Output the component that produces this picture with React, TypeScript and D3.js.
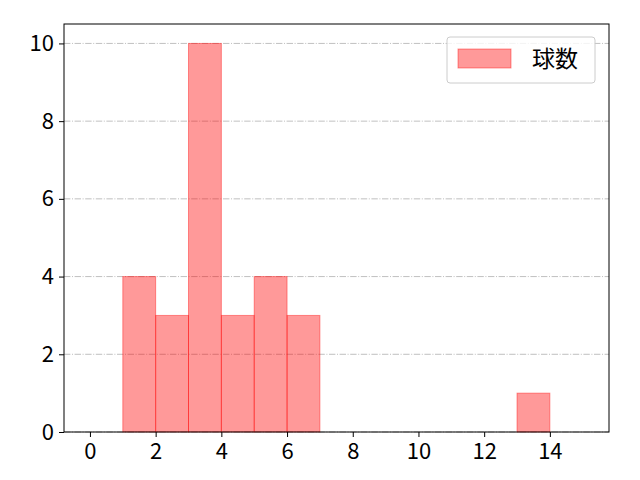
import React, { useEffect, useRef } from 'react';
import * as d3 from 'd3';

// histogram bins (width 1) and counts
const binStarts = [0, 1, 2, 3, 4, 5, 6, 7, 8, 9, 10, 11, 12, 13, 14];
const counts = [0, 4, 3, 10, 3, 4, 3, 0, 0, 0, 0, 0, 0, 1, 0];
const xTicks = [0, 2, 4, 6, 8, 10, 12, 14];
const yTicks = [0, 2, 4, 6, 8, 10];
const seriesName = '球数';

const W = 640;
const H = 480;
const FONT = '"Noto Sans CJK JP", "Noto Sans", sans-serif';

const App: React.FC = () => {
  const svgRef = useRef<SVGSVGElement>(null);

  useEffect(() => {
    if (!svgRef.current) return;
    const svg = d3.select(svgRef.current);
    svg.selectAll('*').remove();

    const left = 64, right = 609, top = 24, bottom = 432;

    const x = d3.scaleLinear().domain([-0.79, 15.8]).range([left, right]);
    const y = d3.scaleLinear().domain([0, 10.5]).range([bottom, top]);

    // grid lines
    svg.append('g')
      .selectAll('line')
      .data(yTicks)
      .enter().append('line')
      .attr('x1', left).attr('x2', right)
      .attr('y1', d => y(d)).attr('y2', d => y(d))
      .attr('stroke', '#b0b0b0')
      .attr('stroke-width', 0.8)
      .attr('stroke-dasharray', '6.4,1.6,1,1.6');

    // bars
    svg.append('g')
      .selectAll('rect')
      .data(binStarts)
      .enter().append('rect')
      .attr('x', d => x(d))
      .attr('width', d => x(d + 1) - x(d))
      .attr('y', (_, i) => y(counts[i]))
      .attr('height', (_, i) => y(0) - y(counts[i]))
      .attr('fill', '#ff0000')
      .attr('fill-opacity', 0.4)
      .attr('stroke', '#ff0000')
      .attr('stroke-opacity', 0.4)
      .attr('stroke-width', 1);

    // frame
    svg.append('rect')
      .attr('x', left).attr('y', top)
      .attr('width', right - left).attr('height', bottom - top)
      .attr('fill', 'none')
      .attr('stroke', '#000')
      .attr('stroke-width', 1);

    // x axis
    const xAxis = d3.axisBottom(x).tickValues(xTicks).tickSize(5).tickPadding(6).tickFormat(d3.format('d'));
    const gx = svg.append('g').attr('transform', `translate(0,${bottom})`).call(xAxis);
    gx.select('.domain').remove();
    gx.selectAll('text').style('font-family', FONT).style('font-size', '22px').attr('fill', '#000');
    gx.selectAll('line').attr('stroke', '#000');

    // y axis
    const yAxis = d3.axisLeft(y).tickValues(yTicks).tickSize(5).tickPadding(5).tickFormat(d3.format('d'));
    const gy = svg.append('g').attr('transform', `translate(${left},0)`).call(yAxis);
    gy.select('.domain').remove();
    gy.selectAll('text').style('font-family', FONT).style('font-size', '22px').attr('fill', '#000');
    gy.selectAll('line').attr('stroke', '#000');

    // legend
    const lg = svg.append('g');
    lg.append('rect')
      .attr('x', 447).attr('y', 37)
      .attr('width', 148).attr('height', 46)
      .attr('rx', 3)
      .attr('fill', '#fff')
      .attr('fill-opacity', 0.8)
      .attr('stroke', '#cccccc')
      .attr('stroke-width', 1);
    lg.append('rect')
      .attr('x', 458).attr('y', 49)
      .attr('width', 53).attr('height', 19)
      .attr('fill', '#ff0000')
      .attr('fill-opacity', 0.4)
      .attr('stroke', '#ff0000')
      .attr('stroke-opacity', 0.4);
    lg.append('text')
      .attr('x', 532).attr('y', 59)
      .attr('dy', '0.35em')
      .style('font-family', FONT)
      .style('font-size', '23px')
      .attr('fill', '#000')
      .text(seriesName);
  }, []);

  return <svg ref={svgRef} width={W} height={H} style={{ display: 'block', position: 'absolute', left: 0, top: 0 }} />;
};

export default App;
